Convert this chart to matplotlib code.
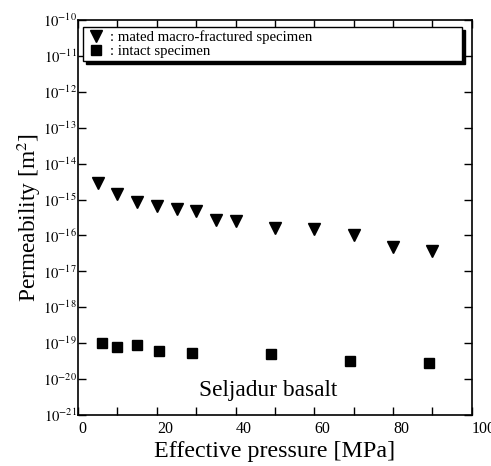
import numpy as np
import matplotlib.pyplot as plt
from matplotlib.ticker import LogLocator, FuncFormatter, MultipleLocator

plt.rcParams['font.family'] = ['Liberation Serif', 'DejaVu Serif']
plt.rcParams['mathtext.fontset'] = 'stix'

# mated macro-fractured specimen
frac_p = [5, 10, 15, 20, 25, 30, 35, 40, 50, 60, 70, 80, 90]
frac_k = [2.9e-15, 1.4e-15, 8.5e-16, 6.6e-16, 5.5e-16, 4.8e-16, 2.7e-16, 2.5e-16,
          1.6e-16, 1.5e-16, 1.0e-16, 4.8e-17, 3.7e-17]

# intact specimen
intact_p = [6, 10, 15, 20.5, 29, 49, 69, 89]
intact_k = [1.0e-19, 8.0e-20, 8.8e-20, 6.2e-20, 5.2e-20, 5.0e-20, 3.2e-20, 2.8e-20]

fig = plt.figure(figsize=(4.91, 4.66), dpi=100)
ax = fig.add_axes([0.159, 0.1094, 0.802, 0.8476])

ax.plot(frac_p, frac_k, 'v', color='black', markersize=9, linestyle='none',
        label=': mated macro-fractured specimen')
ax.plot(intact_p, intact_k, 's', color='black', markersize=6.5, linestyle='none',
        label=': intact specimen')

ax.set_yscale('log')
ax.set_xlim(0, 100)
ax.set_ylim(1e-21, 1e-10)

ax.xaxis.set_major_locator(MultipleLocator(10))
ax.xaxis.set_major_formatter(FuncFormatter(lambda v, p: '%d' % v if int(v) % 20 == 0 else ''))
ax.yaxis.set_major_locator(LogLocator(base=10, numticks=20))
ax.yaxis.set_minor_locator(LogLocator(base=10, subs=[], numticks=20))
ax.yaxis.set_major_formatter(FuncFormatter(lambda v, p: r'$10^{%d}$' % round(np.log10(v))))

ax.tick_params(direction='in', top=True, right=True, length=6, width=1)
ax.tick_params(axis='x', labelsize=11.5, pad=4)
ax.tick_params(axis='y', labelsize=10.5, pad=1)
ax.tick_params(axis='y', which='minor', length=0)
for lab in ax.get_xticklabels():
    lab.set_horizontalalignment('left')
for s in ax.spines.values():
    s.set_linewidth(1.2)

ax.set_xlabel('Effective pressure [MPa]', fontsize=17.3, labelpad=3)
ax.set_ylabel(r'Permeability [m$^2$]', fontsize=16.8, labelpad=0)

ax.text(0.307, 0.048, 'Seljadur basalt', transform=ax.transAxes, fontsize=16.8)

leg = ax.legend(loc='upper left', bbox_to_anchor=(0.013, 0.982, 0.962, 0.0), mode='expand',
                fontsize=10.6, frameon=True, fancybox=False, edgecolor='black',
                shadow={'color': 'black', 'alpha': 1}, borderpad=0.2, labelspacing=0.05,
                handletextpad=0.3, handlelength=1.3, borderaxespad=0, framealpha=1)
leg.get_frame().set_linewidth(1.0)

fig.savefig('out.png', dpi=100)
